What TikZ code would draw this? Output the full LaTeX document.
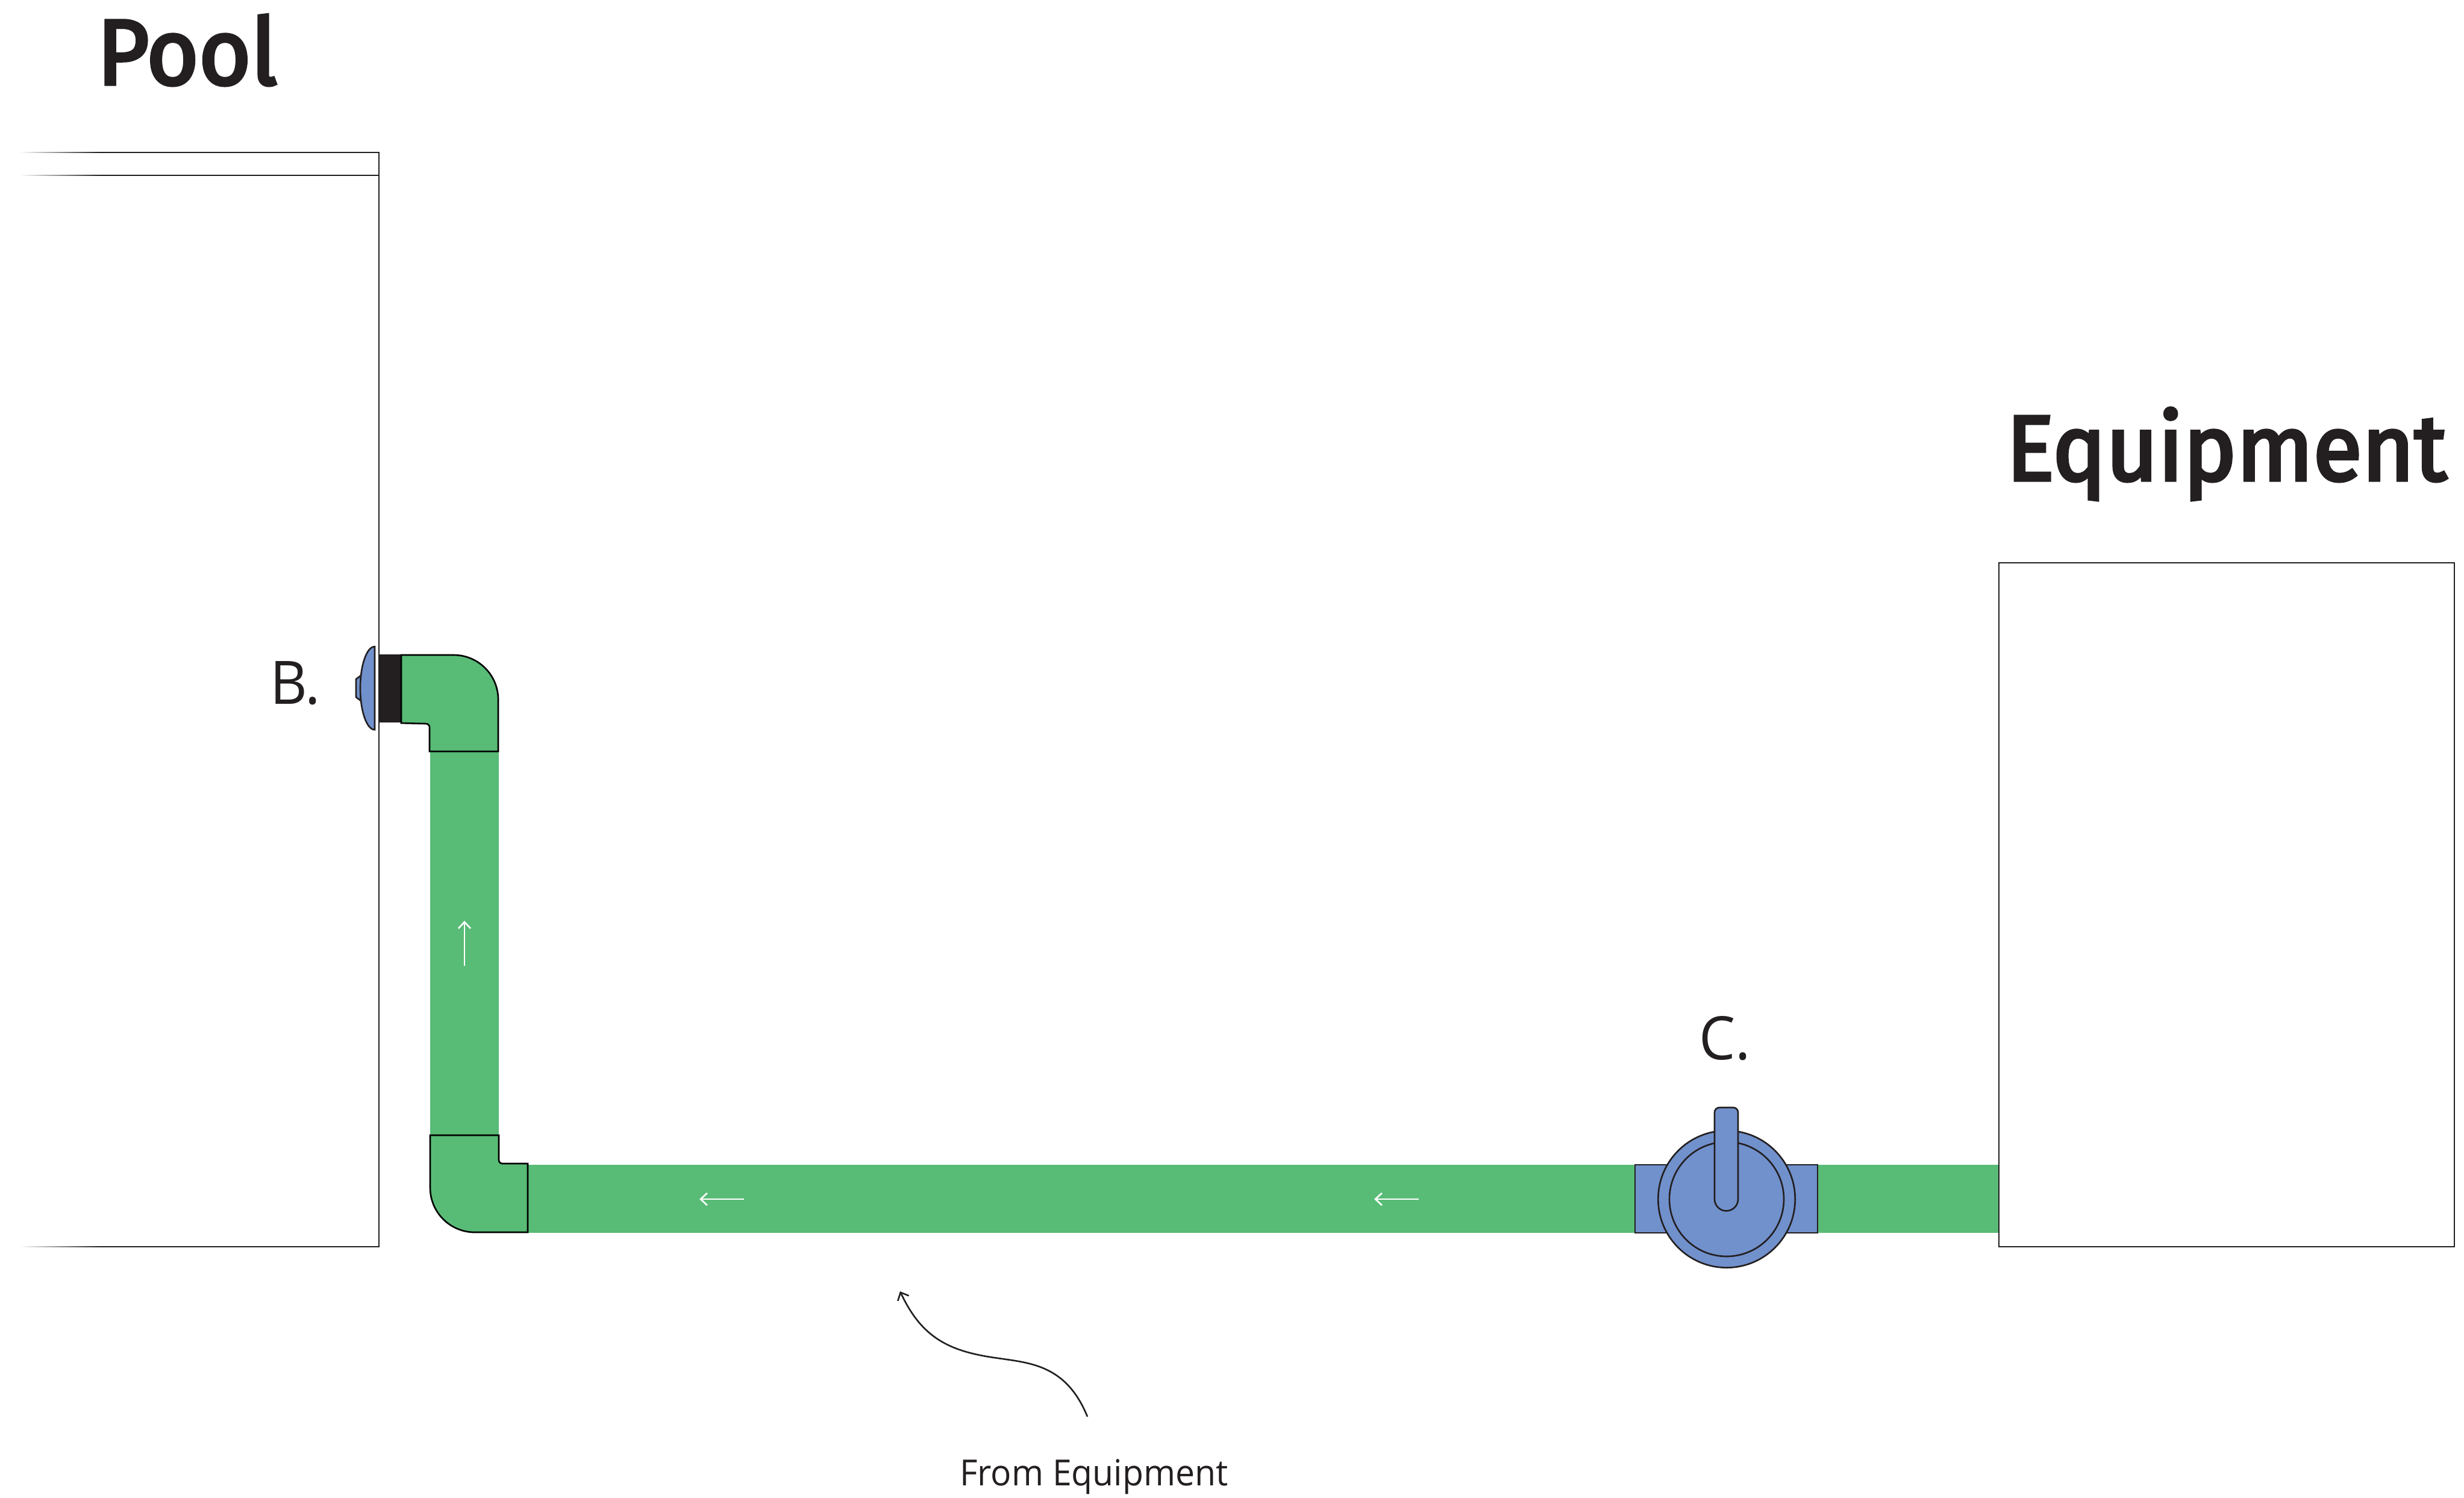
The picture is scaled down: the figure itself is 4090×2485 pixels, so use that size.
\documentclass[tikz,border=0pt]{standalone}
\usepackage{fontspec}
\usetikzlibrary{arrows.meta}
\newfontfamily\titlefont[FakeBold=3.5,FakeStretch=0.965]{Fira Sans}
\newfontfamily\letterfont[FakeStretch=0.96]{Open Sans}
\newfontfamily\notefont[FakeStretch=0.955]{Open Sans}
\definecolor{ink}{HTML}{231F20}
\definecolor{pipegreen}{HTML}{58BB76}
\definecolor{valveblue}{HTML}{7191CC}

\begin{document}
\begin{tikzpicture}[x=0.02cm,y=-0.02cm,line width=1.5pt,
						title/.style={anchor=base west,inner sep=0pt,text=ink,font=\titlefont\fontsize{87.6}{100}\selectfont},
						letter/.style={anchor=base west,inner sep=0pt,text=ink,font=\letterfont\fontsize{56.6}{68}\selectfont},
						note/.style={anchor=base west,inner sep=0pt,text=ink,font=\notefont\fontsize{34}{40}\selectfont},
						wall/.style={draw=ink,line join=miter},
						pipe/.style={fill=pipegreen},
						elbow/.style={draw=black,fill=pipegreen},
						valve/.style={draw=ink,fill=valveblue},
						flow/.style={draw=white,line width=1.5pt,-{Straight Barb[length=6.2pt,width=11.5pt]}}]
		\useasboundingbox (0,0) rectangle (4090,2485);

		\node[title]	(pool)		at (160,140)	{Pool};
		\node[title]	(equipment)	at (3329,797)	{Equipment};
		\node[letter]	(b)			at (447,1168)	{B.};
		\node[letter]	(c)			at (2819,1758)	{C.};
		\node[note]		(from)		at (1592,2465)	{From Equipment};

		\foreach \y in {253,291,2069}
			\foreach \i in {0,...,32}
				\draw[ink!\the\numexpr\i*3+4\relax] (36+\i*4,\y) -- (41+\i*4,\y);
		\draw[wall] (168,291) -- (629,291);
		\draw[wall] (168,253) -- (629,253) -- (629,2069) -- (168,2069);

		\fill[pipe] (714,1240) rectangle (828,1890);
		\fill[pipe] (870,1933) rectangle (3318,2046);

		\fill[ink] (629,1086) rectangle (666,1199);
		\draw[elbow] (666,1087) -- (753,1087) arc[start angle=-90,end angle=0,radius=74] -- (827,1247) -- (713,1247) -- (713,1207) arc[start angle=0,end angle=-90,radius=6] -- (666,1200) -- cycle;
		\draw[elbow] (714,1884) -- (828,1884) -- (828,1925) arc[start angle=180,end angle=90,radius=6] -- (876,1931) -- (876,2045) -- (788,2045) arc[start angle=90,end angle=180,radius=74] -- cycle;

		\draw[valve] (599,1121) -- (591,1127) -- (591,1157) -- (599,1163) -- cycle;
		\draw[valve] (622,1211) arc[start angle=90,end angle=270,x radius=24,y radius=69] -- cycle;

		\coordinate (seat) at (2866,1990);
		\draw[valve] (2714,1933) rectangle (3017,2046);
		\draw[valve] (seat) circle[radius=113.7];
		\draw[valve] (seat) circle[radius=95];
		\draw[valve] (2846,1990) -- (2846,1846) arc[start angle=180,end angle=270,radius=8] -- (2877,1838) arc[start angle=-90,end angle=0,radius=8] -- (2885,1990) arc[start angle=0,end angle=180,radius=19.5] -- cycle;

		\draw[wall] (3318,934) rectangle (4074,2069);

		\coordinate (up0) at (771,1603);
		\coordinate (up1) at (771,1528);
		\coordinate (left0) at (1235,1990);
		\coordinate (left1) at (1161,1990);
		\coordinate (right0) at (2355,1990);
		\coordinate (right1) at (2281,1990);
		\draw[flow] (up0) -- (up1);
		\draw[flow] (left0) -- (left1);
		\draw[flow] (right0) -- (right1);

		\coordinate (noteend) at (1805,2351);
		\coordinate (notemid) at (1657,2254);
		\coordinate (notetip) at (1494,2143);
		\draw[draw=ink,-{Straight Barb[length=6.2pt,width=11.5pt]}] (noteend) .. controls (1770,2265) and (1710,2262) .. (notemid) .. controls (1575,2243) and (1530,2220) .. (notetip);
	\end{tikzpicture}
\end{document}
